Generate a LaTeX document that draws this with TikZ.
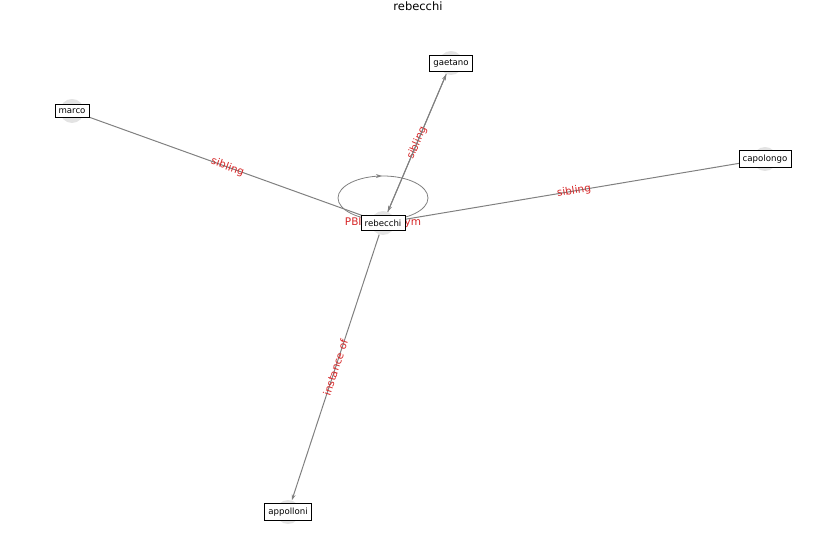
\documentclass[tikz,border=0pt]{standalone}
\usepackage{fontspec}
\setmainfont{DejaVu Sans}
\usetikzlibrary{arrows.meta,decorations.markings}
\definecolor{lblred}{RGB}{214,39,40}
\definecolor{edgegray}{RGB}{128,128,128}

\begin{document}
\begin{tikzpicture}[x=1pt,y=1pt,
	blob/.style={circle,fill=gray!22,minimum size=24pt,inner sep=0pt},
	tag/.style={draw=black,fill=white,line width=0.7pt,font=\fontsize{8.6}{9}\selectfont,inner xsep=3.6pt,inner ysep=4pt},
	edge/.style={draw=edgegray,line width=1pt,-{Stealth[length=6pt,width=4pt]}},
	elabel/.style={text=lblred,font=\fontsize{10.5}{11}\selectfont,midway,sloped,inner sep=0pt}]
	\useasboundingbox (0,0) rectangle (837,559);
	%\draw[help lines] (0,0) grid[step=50] (837,559);

	\node at (418,553) {\fontsize{11.5}{12}\selectfont rebecchi};

	\node[blob] (reb) at (383,336) {};
	\node[blob] (marco) at (72,448) {};
	\node[blob] (gaet) at (451,496) {};
	\node[blob] (capo) at (765,400) {};
	\node[blob] (appo) at (288,47) {};

	\draw[edge] (marco) -- (reb) node[elabel]{sibling};
	\draw[edge] (capo) -- (reb) node[elabel]{sibling};
	\draw[edge] (reb) -- (gaet) node[elabel]{sibling};
	\draw[edge] (gaet) -- (reb);
	\draw[edge] (reb) -- (appo) node[elabel]{instance of};
	\draw[draw=edgegray,line width=0.8pt,postaction={decorate},
		decoration={markings,mark=at position 0.245 with {\arrow{Stealth[length=6pt,width=4pt]}}}]
		([xshift=-45pt,yshift=25pt]reb.center) arc[start angle=180,end angle=-180,x radius=45pt,y radius=22pt];
	\node[text=lblred,font=\fontsize{10.5}{11}\selectfont] at (383,336) {PBIO synonym};

	\node[tag] at (reb) {rebecchi};
	\node[tag] at (72,448) {marco};
	\node[tag] at (451,496) {gaetano};
	\node[tag] at (765,400) {capolongo};
	\node[tag] at (288,47) {appolloni};
\end{tikzpicture}
\end{document}
